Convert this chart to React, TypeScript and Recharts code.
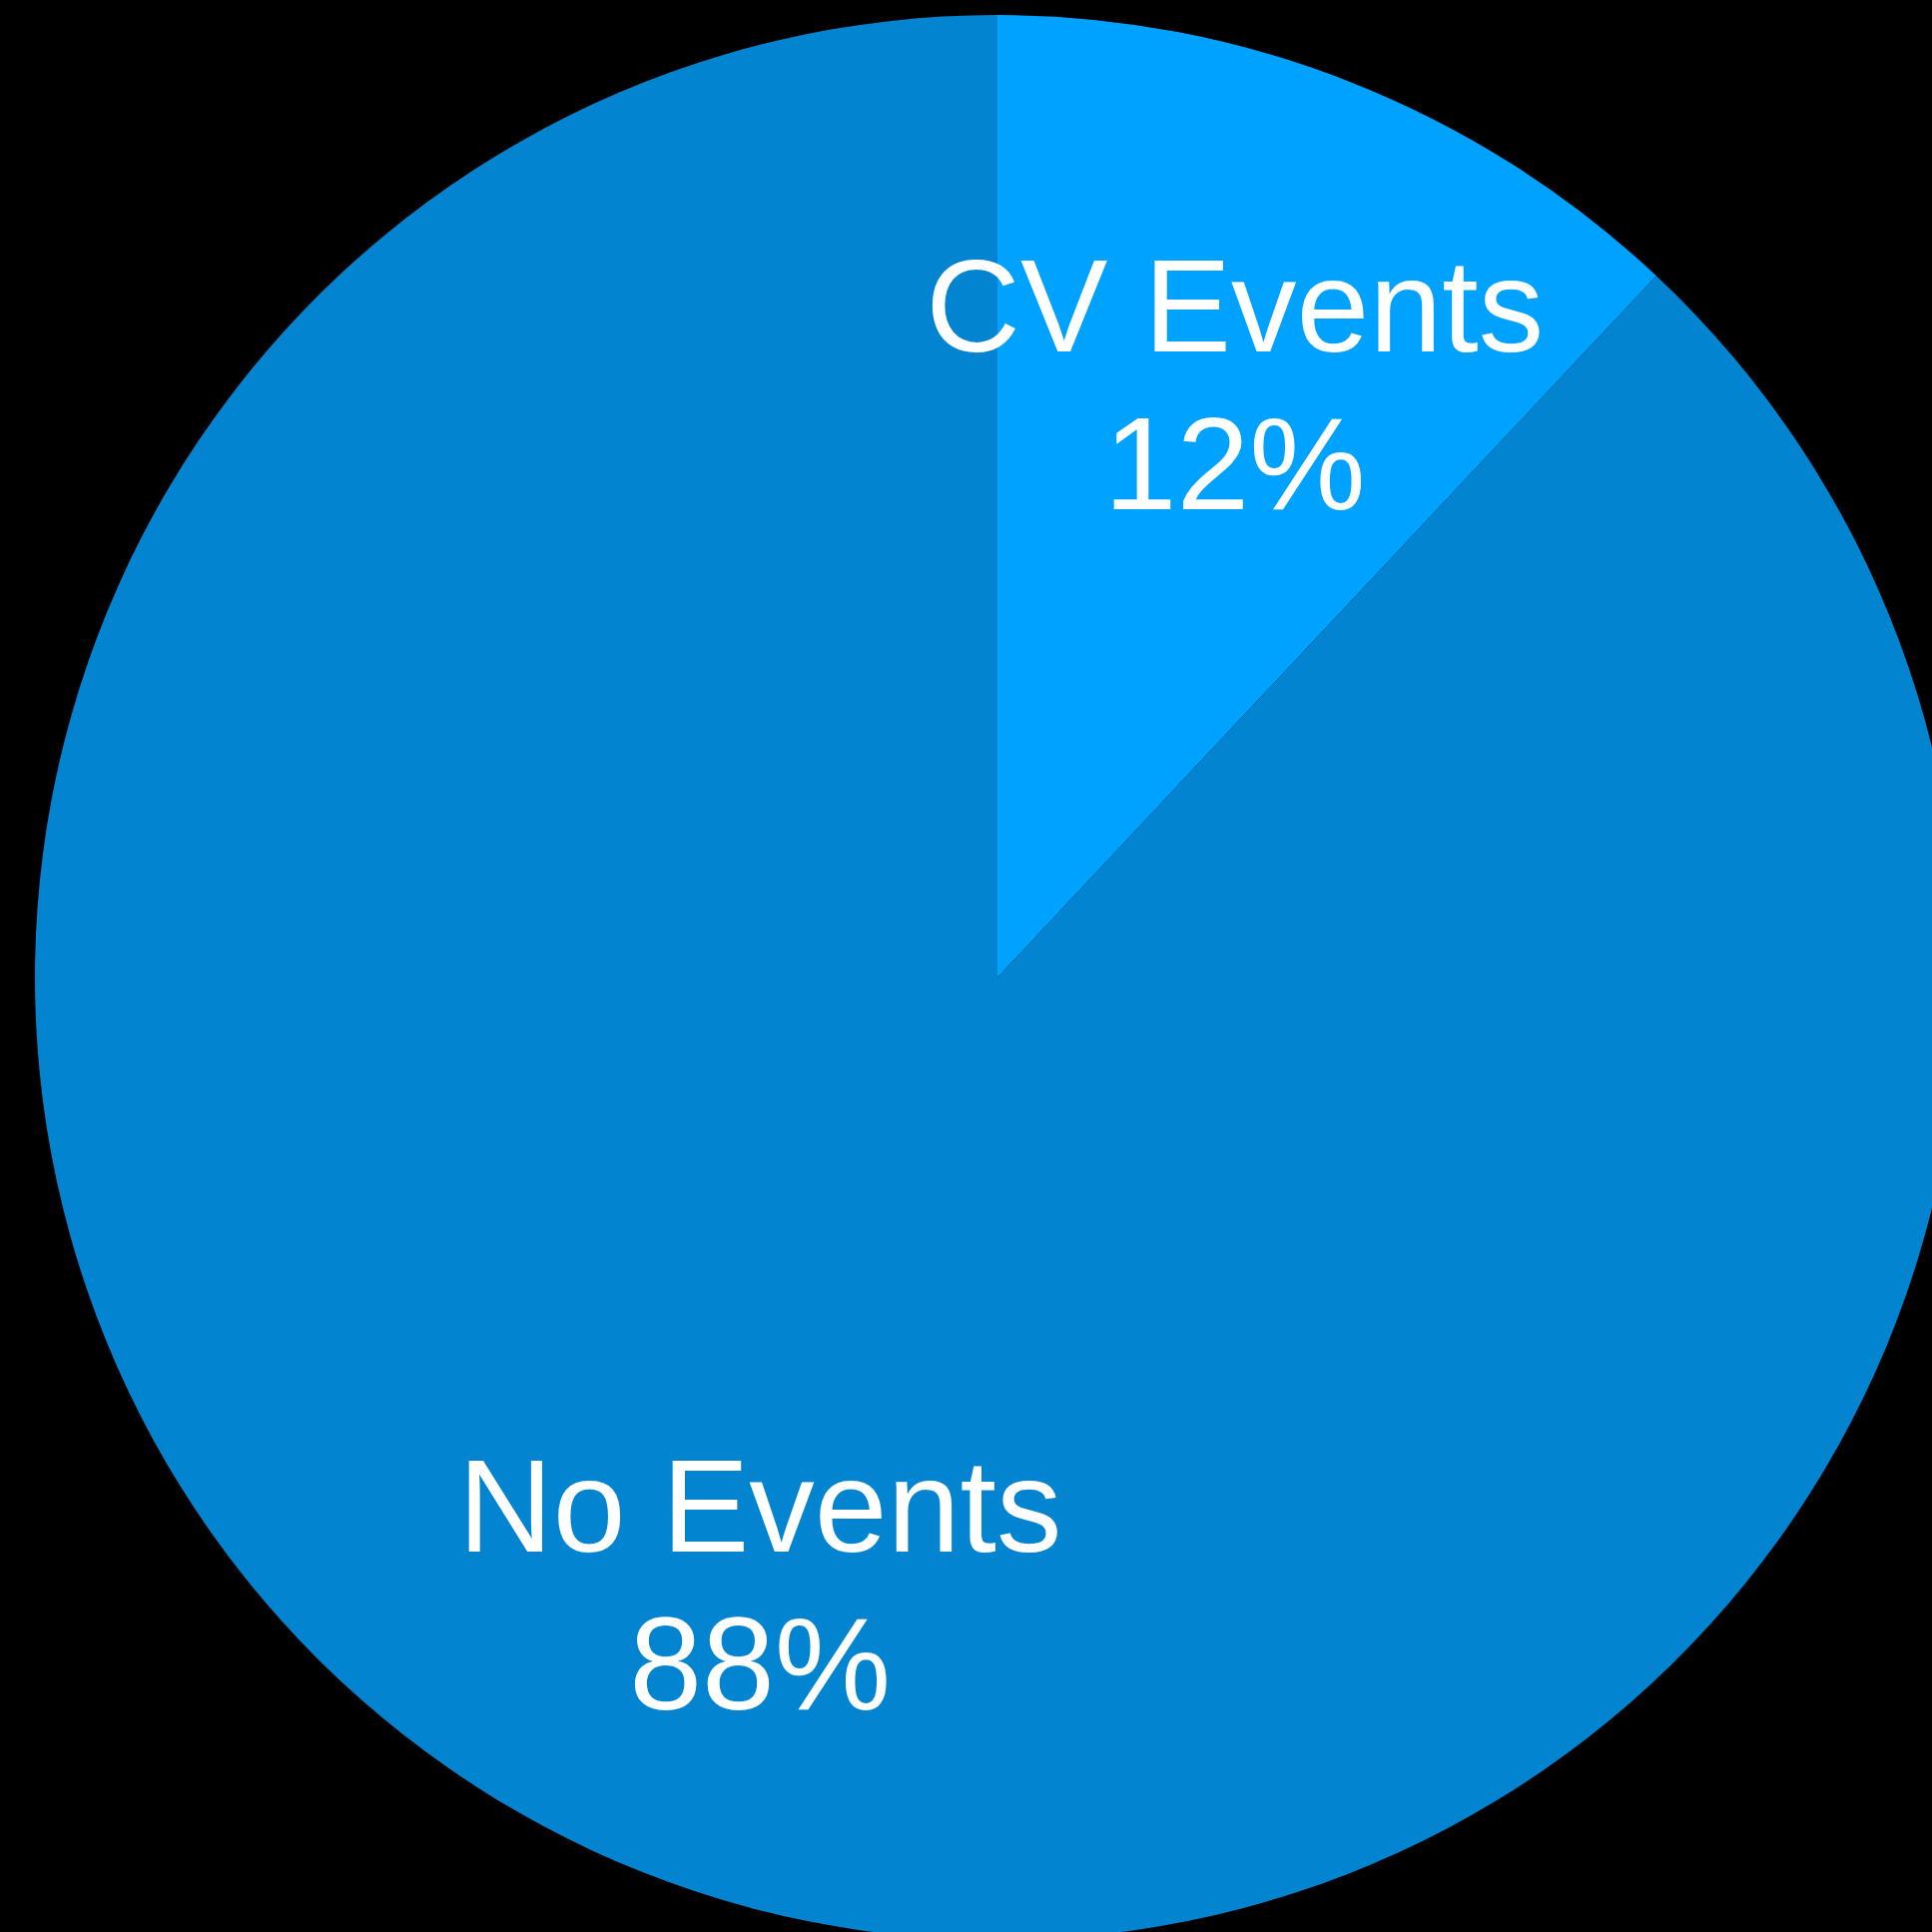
import { PieChart, Pie, Cell } from "recharts";

const categories = ["CV Events", "No Events"];
const shares = [12, 88];
const sliceColors = ["#00a2ff", "#0284d0"];

const data = categories.map((name, i) => ({ name, value: shares[i] }));

const RAD = Math.PI / 180;
const FONT = '"Liberation Sans", Arial, Helvetica, sans-serif';

function SliceLabel(props: any) {
    const { cx, cy, midAngle, outerRadius, name, value } = props;
    const r = outerRadius * 0.67;
    const x = cx + r * Math.cos(-midAngle * RAD);
    const y = cy + r * Math.sin(-midAngle * RAD);
    return (
        <text
            x={x}
            y={y}
            fill="#ffffff"
            textAnchor="middle"
            fontFamily={FONT}
            fontSize={131}
        >
            <tspan x={x} y={y - 26}>
                {name}
            </tspan>
            <tspan x={x} y={y + 132}>
                {`${value}%`}
            </tspan>
        </text>
    );
}

export default function App() {
    return (
        <div
            style={{
                position: "absolute",
                left: 0,
                top: 0,
                width: 1935,
                height: 1935,
                background: "#000000",
                overflow: "hidden",
            }}
        >
            <PieChart width={1935} height={1935} margin={{ top: 0, right: 0, bottom: 0, left: 0 }}>
                <Pie
                    data={data}
                    dataKey="value"
                    nameKey="name"
                    cx={999}
                    cy={979}
                    outerRadius={964}
                    startAngle={90}
                    endAngle={-270}
                    stroke="none"
                    label={SliceLabel}
                    labelLine={false}
                    isAnimationActive={false}
                >
                    {data.map((entry, index) => (
                        <Cell key={`cell-${index}`} fill={sliceColors[index]} />
                    ))}
                </Pie>
            </PieChart>
        </div>
    );
}
